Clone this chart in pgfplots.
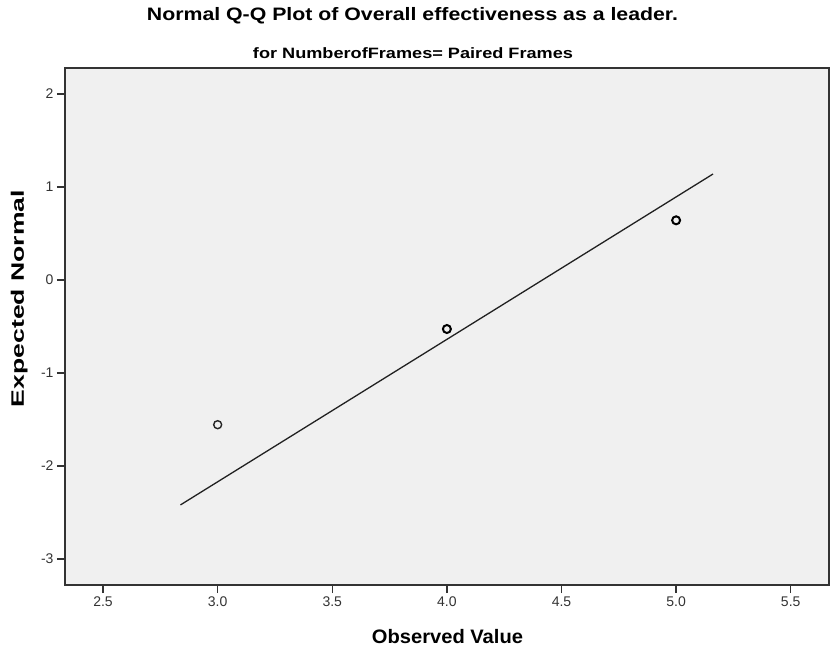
\documentclass[border=0pt]{standalone}
\usepackage{pgfplots}
\pgfplotsset{compat=1.18}
\usepackage{graphicx}
\usepackage{fontspec}
\setmainfont{Liberation Sans}
\definecolor{bg}{HTML}{F0F0F0}
\definecolor{frm}{HTML}{333333}
\definecolor{tl}{HTML}{333333}
\begin{document}
\begin{tikzpicture}[x=1pt,y=1pt]
\useasboundingbox (0,0) rectangle (833,649);
\begin{axis}[
  at={(65pt,64pt)}, anchor=south west,
  scale only axis, width=764pt, height=517pt,
  xmin=2.334, xmax=5.667, ymin=-3.28, ymax=2.28,
  xtick={2.5,3,3.5,4,4.5,5,5.5},
  ytick={-3,-2,-1,0,1,2},
  axis background/.style={fill=bg},
  axis line style={frm, line width=1.4pt},
  tick style={frm, line width=1.4pt},
  tick align=outside, major tick length=8pt,
  xtick pos=bottom, ytick pos=left,
  /pgf/number format/assume math mode=true,
  xticklabel style={/pgf/number format/fixed, /pgf/number format/fixed zerofill, /pgf/number format/precision=1},
  ticklabel style={font=\fontsize{14}{16}\selectfont, text=tl},
  clip=false,
]
\addplot[color=black!87, line width=1.3pt] coordinates {(2.8375,-2.419) (5.161,1.140)};
\addplot[only marks, mark=o, mark size=4pt, mark options={line width=1.4pt, black!85}] coordinates {(3,-1.556)};
\addplot[only marks, mark=o, mark size=4pt, mark options={line width=2pt, black}] coordinates {(4,-0.527) (5,0.642)};
\end{axis}
\node[anchor=base] at (412.5,628) {\resizebox{531pt}{\height}{\fontsize{18}{20}\selectfont\bfseries Normal Q-Q Plot of Overall effectiveness as a leader.}};
\node[anchor=base] at (413,590) {\resizebox{320pt}{\height}{\fontsize{15}{17}\selectfont\bfseries for NumberofFrames= Paired Frames}};
\node[anchor=base] at (447.5,6) {\resizebox{151pt}{\height}{\fontsize{19.5}{22}\selectfont\bfseries Observed Value}};
\node[anchor=base, rotate=90] at (24,350.5) {\resizebox{217pt}{\height}{\fontsize{18}{20}\selectfont\bfseries Expected Normal}};
\end{tikzpicture}
\end{document}
